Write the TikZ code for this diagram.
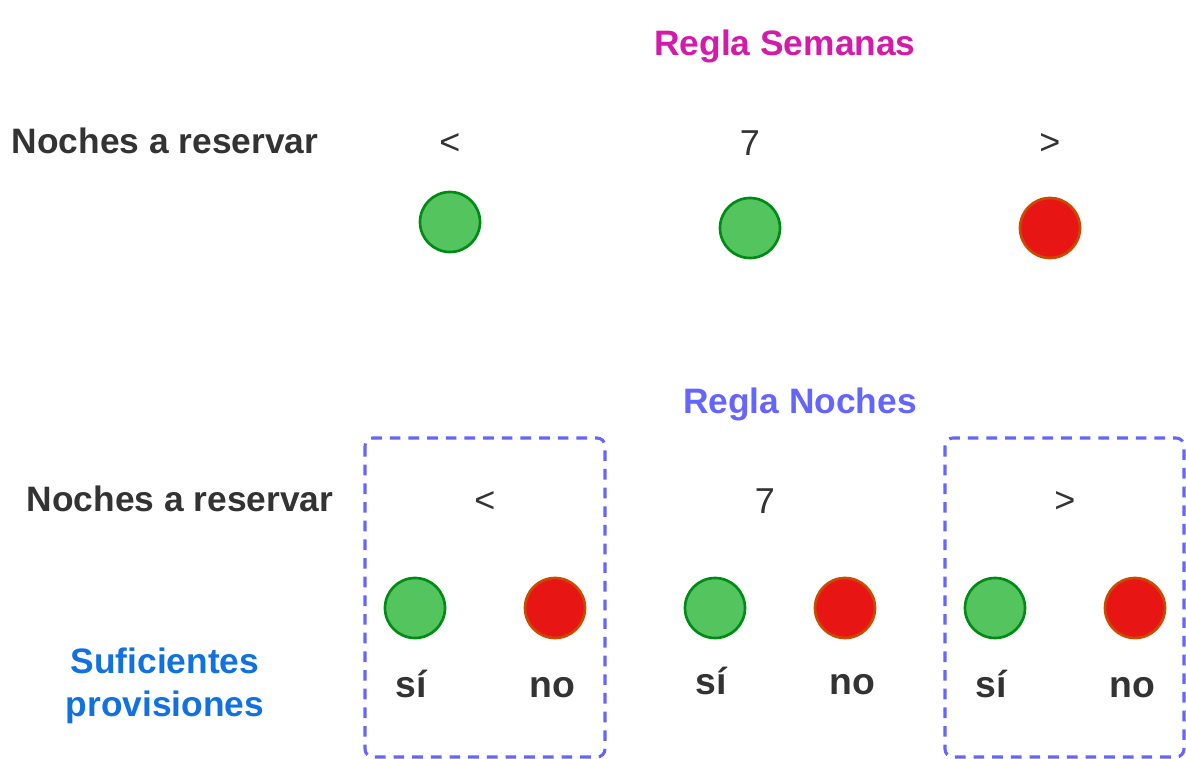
\documentclass[tikz,border=0pt]{standalone}
\usepackage{fontspec}
\setmainfont{Liberation Sans}
\usepackage{tikz}
\usetikzlibrary{calc}

\definecolor{txtgray}{HTML}{333333}
\definecolor{magentarule}{HTML}{D41AA8}
\definecolor{bluerule}{HTML}{6464FF}
\definecolor{bluesuf}{HTML}{1271E0}
\definecolor{greenfill}{HTML}{54C45F}
\definecolor{greenline}{HTML}{008C14}
\definecolor{redfill}{HTML}{E81515}
\definecolor{redline}{HTML}{CC4A00}

\tikzset{
	label/.style={anchor=base, font=\fontsize{26.5}{31}\selectfont\bfseries, text=txtgray},
	sign/.style={anchor=base, font=\fontsize{27}{31}\selectfont, text=txtgray},
	answer/.style={anchor=base, font=\fontsize{28}{32}\selectfont\bfseries, text=txtgray},
	okdot/.style={circle, minimum size=45pt, inner sep=0pt, fill=greenfill, draw=greenline, line width=2pt},
	nodot/.style={circle, minimum size=45pt, inner sep=0pt, fill=redfill, draw=redline, line width=2pt},
	groupbox/.style={draw=bluerule, line width=2.3pt, dash pattern=on 8pt off 6pt, rounded corners=6pt}
}

\begin{document}
\begin{tikzpicture}[x=0.75pt, y=-0.75pt]
				\useasboundingbox (0,0) rectangle (1186,759);
				
				% Regla Semanas
				\node[label, text=magentarule] (semanas) at (785,56) {Regla Semanas};
				\node[label] (noches1) at (165,154) {Noches a reservar};
				\node[sign] (menor1) at (450,155) {<};
				\node[sign] (siete1) at (750,156) {7};
				\node[sign] (mayor1) at (1050,155) {>};
				\node[okdot] (dotA) at (450,222) {};
				\node[okdot] (dotB) at (750,228) {};
				\node[nodot] (dotC) at (1050,228) {};
				
				% Regla Noches
				\node[label, text=bluerule] (nochesrule) at (800,413) {Regla Noches};
				\node[label] (noches2) at (180,511) {Noches a reservar};
				\node[sign] (menor2) at (485,512) {<};
				\node[sign] (siete2) at (765,513) {7};
				\node[sign] (mayor2) at (1065,512) {>};
				
				\draw[groupbox] (365,438) rectangle (605,757);
				\draw[groupbox] (945,438) rectangle (1184,757);
				
				\node[okdot] (si1) at (415,608) {};
				\node[nodot] (no1) at (555,608) {};
				\node[okdot] (si2) at (715,608) {};
				\node[nodot] (no2) at (845,608) {};
				\node[okdot] (si3) at (995,608) {};
				\node[nodot] (no3) at (1135,608) {};
				
				\node[answer] (tsi1) at (411,697) {sí};
				\node[answer] (tno1) at (552,697) {no};
				\node[answer] (tsi2) at (711,694) {sí};
				\node[answer] (tno2) at (852,694) {no};
				\node[answer] (tsi3) at (991,697) {sí};
				\node[answer] (tno3) at (1132,697) {no};
				
				\node[label, text=bluesuf, align=center, font=\fontsize{26.5}{32}\selectfont\bfseries] (provis) at (165,716) {Suficientes\\provisiones};
			\end{tikzpicture}
\end{document}
